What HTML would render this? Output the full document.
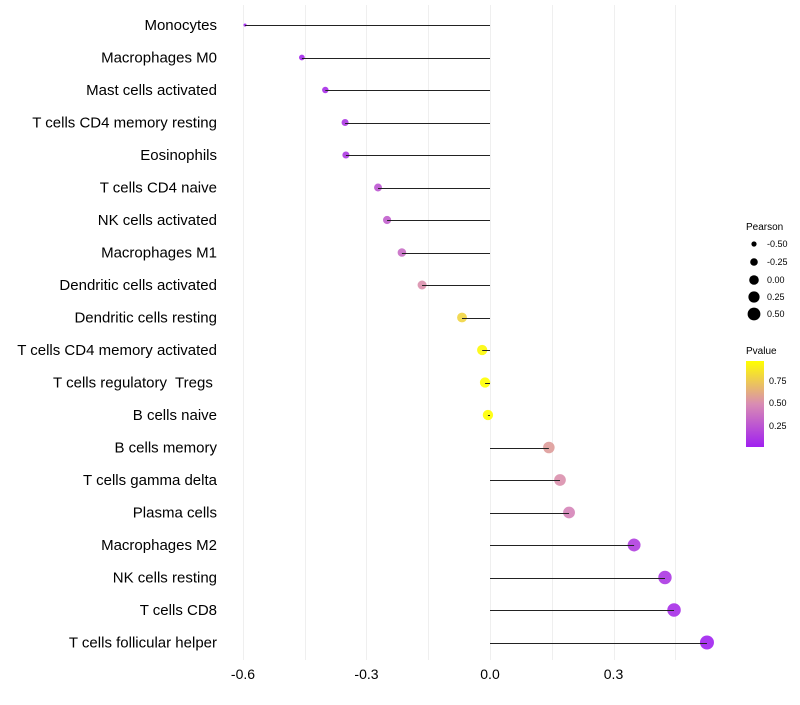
<!DOCTYPE html>
<html><head><meta charset="utf-8"><style>
body{margin:0;background:#fff;font-family:"Liberation Sans",sans-serif}
</style></head><body>
<svg id="chart" width="800" height="700" xmlns="http://www.w3.org/2000/svg" font-family="Liberation Sans, sans-serif">
<g id="grid"></g>
<g id="marks"></g>
<g id="ylabels"></g>
<g id="xlabels"></g>
<g font-size="9">
<text x="746" y="230" font-size="10">Pearson</text>
<circle cx="754" cy="244" r="2.6" fill="#000"/><text x="767" y="247">-0.50</text>
<circle cx="754" cy="262" r="3.8" fill="#000"/><text x="767" y="265">-0.25</text>
<circle cx="754" cy="280" r="4.8" fill="#000"/><text x="767" y="283">0.00</text>
<circle cx="754" cy="297" r="5.6" fill="#000"/><text x="767" y="300">0.25</text>
<circle cx="754" cy="314" r="6.4" fill="#000"/><text x="767" y="317">0.50</text>
</g>
<g font-size="9">
<defs><linearGradient id="pg" x1="0" y1="1" x2="0" y2="0">
<stop offset="0" stop-color="#a020f0"/><stop offset="0.5" stop-color="#d98cb3"/><stop offset="1" stop-color="#ffff00"/></linearGradient></defs>
<text x="746" y="354" font-size="10">Pvalue</text>
<rect x="746" y="361" width="18" height="86" fill="url(#pg)"/>
<text x="769" y="384">0.75</text><text x="769" y="406">0.50</text><text x="769" y="429">0.25</text>
</g>
</svg>
<script>
const categories=["Monocytes","Macrophages M0","Mast cells activated","T cells CD4 memory resting","Eosinophils","T cells CD4 naive","NK cells activated","Macrophages M1","Dendritic cells activated","Dendritic cells resting","T cells CD4 memory activated","T cells regulatory\u00a0 Tregs\u00a0","B cells naive","B cells memory","T cells gamma delta","Plasma cells","Macrophages M2","NK cells resting","T cells CD8","T cells follicular helper"];
const pearson=[-0.595,-0.457,-0.40,-0.352,-0.35,-0.272,-0.25,-0.214,-0.165,-0.068,-0.019,-0.012,-0.005,0.143,0.17,0.192,0.35,0.425,0.447,0.527];
const pvalues=[0.01,0.05,0.08,0.12,0.13,0.25,0.29,0.35,0.5,0.78,0.93,0.95,0.98,0.55,0.5,0.45,0.15,0.12,0.08,0.03];
const xTicks=[-0.6,-0.3,0.0,0.3];
const xTickLabels=["-0.6","-0.3","0.0","0.3"];
const NS="http://www.w3.org/2000/svg";
const xs=v=>490+v*411.7;
const ys=i=>25+i*32.5;
const rs=v=>Math.sqrt(Math.max(1,27.1+41.5*v));
function lerp(a,b,t){return a.map((c,i)=>Math.round(c+(b[i]-c)*t));}
function col(p){const t=Math.max(0,Math.min(1,(p-0.02)/0.93));const P=[160,32,240],M=[217,140,179],Y=[255,255,0];
 const c=t<0.5?lerp(P,M,t*2):lerp(M,Y,(t-0.5)*2);return `rgb(${c})`;}
function mk(tag,at,parent){const e=document.createElementNS(NS,tag);for(const k in at)e.setAttribute(k,at[k]);parent.appendChild(e);return e;}
const grid=document.getElementById('grid'),marks=document.getElementById('marks'),yl=document.getElementById('ylabels'),xl=document.getElementById('xlabels');
for(let k=0;k<8;k++){const v=-0.6+k*0.15;const g=mk('line',{x1:Math.round(xs(v))+0.5,x2:Math.round(xs(v))+0.5,y1:5,y2:660,stroke:'#efefef','stroke-width':1},grid);

}
xTicks.forEach((t,i)=>{const e=mk('text',{x:xs(t),y:679,'text-anchor':'middle','font-size':14,fill:'#000'},xl);e.textContent=xTickLabels[i];

});
categories.forEach((c,i)=>{
 const y=ys(i),v=pearson[i];
 const t=mk('text',{x:217,y:y+5,'text-anchor':'end','font-size':15,fill:'#000'},yl);t.textContent=c;
 
 
 const d=mk('circle',{cx:xs(v),cy:y,r:rs(v),fill:col(pvalues[i]),'fill-opacity':0.9},marks);
 
 
 const ly=Math.round(y)+0.5;
 const l=mk('line',{x1:xs(v),x2:xs(0),y1:ly,y2:ly,stroke:'#222','stroke-width':1},marks);
 
 
});
</script>
</body></html>
